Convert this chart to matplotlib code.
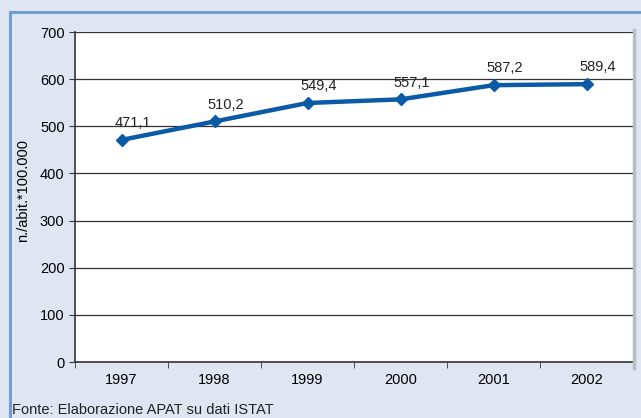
import matplotlib.pyplot as plt
import matplotlib.patches as patches

anni = ['1997', '1998', '1999', '2000', '2001', '2002']
valori = [471.1, 510.2, 549.4, 557.1, 587.2, 589.4]
etichette = ['471,1', '510,2', '549,4', '557,1', '587,2', '589,4']

plt.rcParams['font.family'] = ['Liberation Sans', 'DejaVu Sans']

W, H = 641, 418
fig = plt.figure(figsize=(W / 100, H / 100), dpi=100)
fig.patch.set_facecolor('#dfe6f2')

# cornice blu in alto e a sinistra
fig.patches.append(patches.Rectangle((10 / W, -0.1), 1.2, 1 - 12 / H + 0.1,
                                     transform=fig.transFigure, fill=False,
                                     edgecolor='#6f9fd2', linewidth=2.2))

ax = fig.add_axes([75 / W, 1 - 362 / H, (633 - 75) / W, (362 - 32) / H])
ax.set_facecolor('white')

x = list(range(len(anni)))
ax.plot(x, valori, color='#0b5aa6', linewidth=3.2, marker='D', markersize=6.5)
for xi, v, t in zip(x, valori, etichette):
    ax.annotate(t, (xi, v), xytext=(8, 7), textcoords='offset points',
                ha='center', va='bottom', fontsize=10.5, color='#222222')

ax.set_xlim(-0.5, len(anni) - 0.5)
ax.set_ylim(0, 700)
ax.set_yticks(range(0, 701, 100))
ax.yaxis.grid(True, color='#333333', linewidth=0.9)
ax.set_axisbelow(True)

ax.set_xticks(x)
ax.set_xticklabels(anni, fontsize=10.5)
ax.set_xticks([i - 0.5 for i in range(len(anni) + 1)], minor=True)
ax.tick_params(axis='x', which='major', length=0, pad=8)
ax.tick_params(axis='x', which='minor', length=4, direction='out', color='#333333')
ax.tick_params(axis='y', length=4, labelsize=10.5, color='#333333')

for s in ['top', 'right']:
    ax.spines[s].set_visible(False)
ax.spines['left'].set_color('#333333')
ax.spines['bottom'].set_color('#333333')
ax.spines['left'].set_linewidth(1.2)
ax.spines['bottom'].set_linewidth(1.2)

# ombra grigia a destra dell'area del grafico
fig.add_artist(plt.Line2D([634 / W, 634 / W], [1 - 368 / H, 1 - 30 / H],
                          transform=fig.transFigure, color='#b8bcc4', linewidth=2.5))

ax.set_ylabel('n./abit.*100.000', fontsize=10.5)
ax.yaxis.set_label_coords((30 - 75) / 558, 0.52)

fig.text(12 / W, 1 - 410 / H, 'Fonte: Elaborazione APAT su dati ISTAT',
         fontsize=10.5, ha='left', va='center', color='#222222')

fig.savefig('out.png', dpi=100, facecolor=fig.get_facecolor())
